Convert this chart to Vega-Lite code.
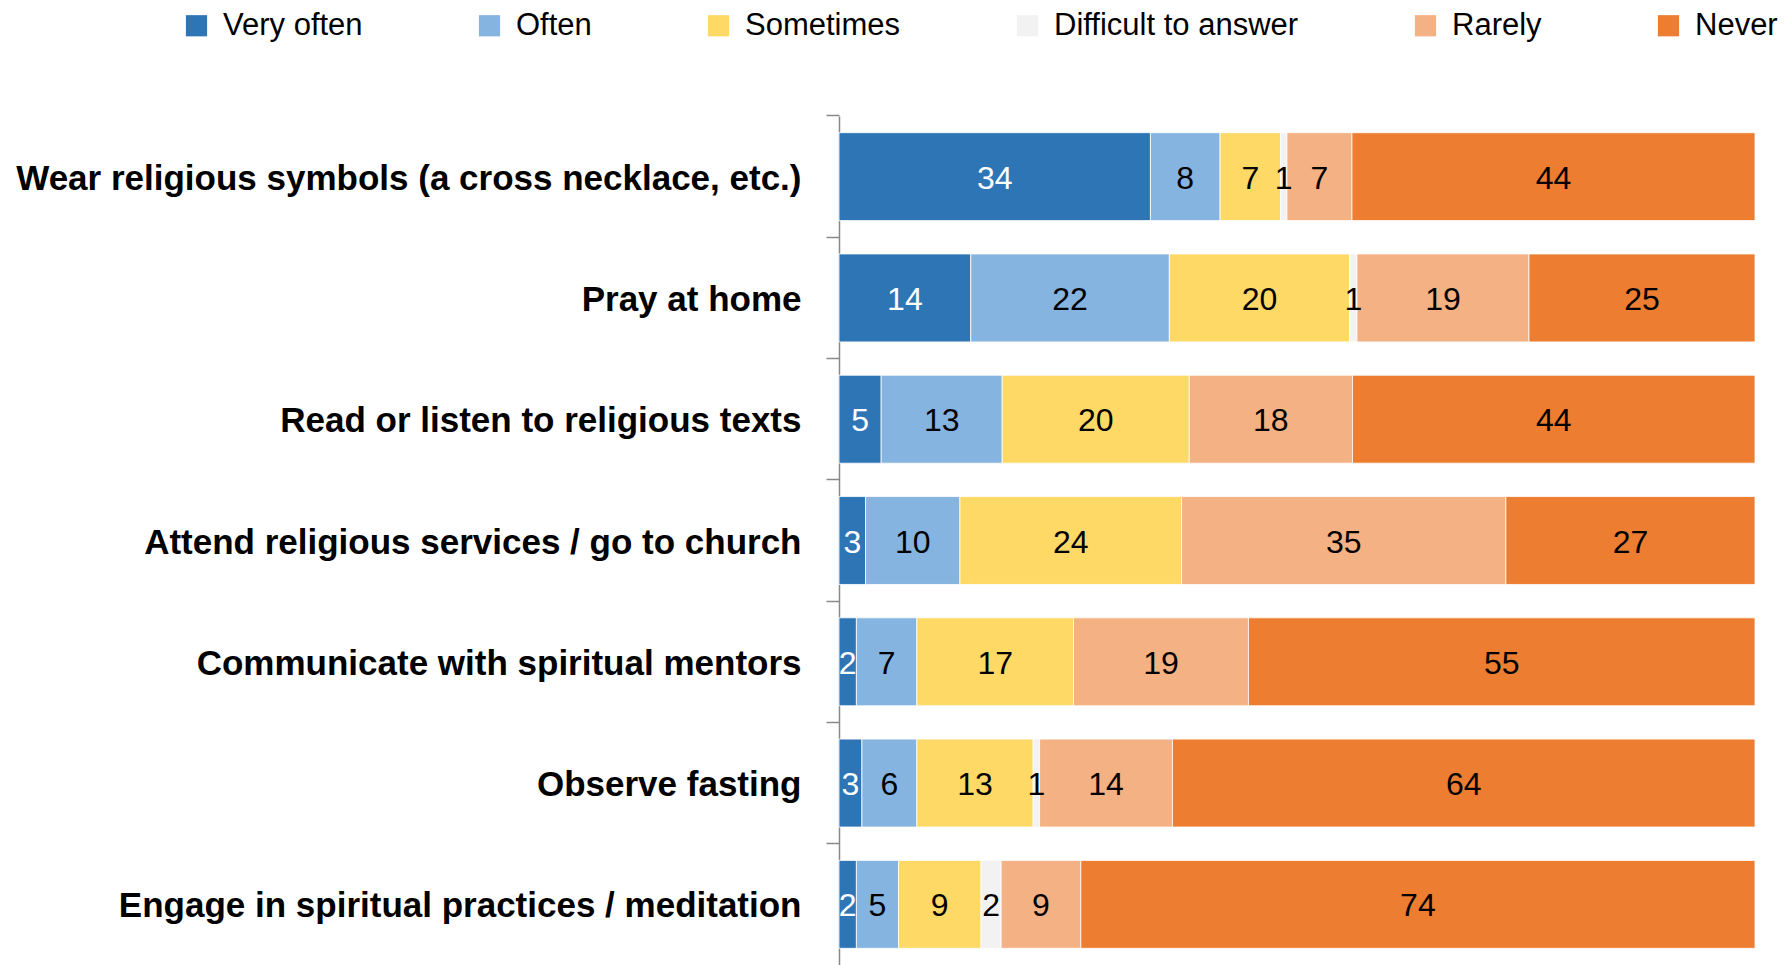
{
  "$schema": "https://vega.github.io/schema/vega-lite/v6.json",
  "autosize": {"type": "none"},
  "padding": {"left": 839, "top": 116, "right": 33, "bottom": 0},
  "width": 916,
  "height": 849,
  "background": "white",
  "config": {"view": {"stroke": null}},
  "data": {"values": [
    {"item": "Wear religious symbols (a cross necklace, etc.)", "cat": "Very often", "k": 1, "v": 34.0, "label": "34"},
    {"item": "Wear religious symbols (a cross necklace, etc.)", "cat": "Often", "k": 2, "v": 7.6, "label": "8"},
    {"item": "Wear religious symbols (a cross necklace, etc.)", "cat": "Sometimes", "k": 3, "v": 6.6, "label": "7"},
    {"item": "Wear religious symbols (a cross necklace, etc.)", "cat": "Difficult to answer", "k": 4, "v": 0.7, "label": "1"},
    {"item": "Wear religious symbols (a cross necklace, etc.)", "cat": "Rarely", "k": 5, "v": 7.1, "label": "7"},
    {"item": "Wear religious symbols (a cross necklace, etc.)", "cat": "Never", "k": 6, "v": 44.0, "label": "44"},
    {"item": "Pray at home", "cat": "Very often", "k": 1, "v": 14.4, "label": "14"},
    {"item": "Pray at home", "cat": "Often", "k": 2, "v": 21.7, "label": "22"},
    {"item": "Pray at home", "cat": "Sometimes", "k": 3, "v": 19.7, "label": "20"},
    {"item": "Pray at home", "cat": "Difficult to answer", "k": 4, "v": 0.8, "label": "1"},
    {"item": "Pray at home", "cat": "Rarely", "k": 5, "v": 18.8, "label": "19"},
    {"item": "Pray at home", "cat": "Never", "k": 6, "v": 24.7, "label": "25"},
    {"item": "Read or listen to religious texts", "cat": "Very often", "k": 1, "v": 4.6, "label": "5"},
    {"item": "Read or listen to religious texts", "cat": "Often", "k": 2, "v": 13.2, "label": "13"},
    {"item": "Read or listen to religious texts", "cat": "Sometimes", "k": 3, "v": 20.4, "label": "20"},
    {"item": "Read or listen to religious texts", "cat": "Rarely", "k": 5, "v": 17.8, "label": "18"},
    {"item": "Read or listen to religious texts", "cat": "Never", "k": 6, "v": 43.9, "label": "44"},
    {"item": "Attend religious services / go to church", "cat": "Very often", "k": 1, "v": 2.9, "label": "3"},
    {"item": "Attend religious services / go to church", "cat": "Often", "k": 2, "v": 10.3, "label": "10"},
    {"item": "Attend religious services / go to church", "cat": "Sometimes", "k": 3, "v": 24.2, "label": "24"},
    {"item": "Attend religious services / go to church", "cat": "Rarely", "k": 5, "v": 35.4, "label": "35"},
    {"item": "Attend religious services / go to church", "cat": "Never", "k": 6, "v": 27.2, "label": "27"},
    {"item": "Communicate with spiritual mentors", "cat": "Very often", "k": 1, "v": 1.9, "label": "2"},
    {"item": "Communicate with spiritual mentors", "cat": "Often", "k": 2, "v": 6.6, "label": "7"},
    {"item": "Communicate with spiritual mentors", "cat": "Sometimes", "k": 3, "v": 17.1, "label": "17"},
    {"item": "Communicate with spiritual mentors", "cat": "Rarely", "k": 5, "v": 19.1, "label": "19"},
    {"item": "Communicate with spiritual mentors", "cat": "Never", "k": 6, "v": 55.3, "label": "55"},
    {"item": "Observe fasting", "cat": "Very often", "k": 1, "v": 2.5, "label": "3"},
    {"item": "Observe fasting", "cat": "Often", "k": 2, "v": 6.0, "label": "6"},
    {"item": "Observe fasting", "cat": "Sometimes", "k": 3, "v": 12.7, "label": "13"},
    {"item": "Observe fasting", "cat": "Difficult to answer", "k": 4, "v": 0.7, "label": "1"},
    {"item": "Observe fasting", "cat": "Rarely", "k": 5, "v": 14.5, "label": "14"},
    {"item": "Observe fasting", "cat": "Never", "k": 6, "v": 63.6, "label": "64"},
    {"item": "Engage in spiritual practices / meditation", "cat": "Very often", "k": 1, "v": 1.9, "label": "2"},
    {"item": "Engage in spiritual practices / meditation", "cat": "Often", "k": 2, "v": 4.6, "label": "5"},
    {"item": "Engage in spiritual practices / meditation", "cat": "Sometimes", "k": 3, "v": 9.0, "label": "9"},
    {"item": "Engage in spiritual practices / meditation", "cat": "Difficult to answer", "k": 4, "v": 2.2, "label": "2"},
    {"item": "Engage in spiritual practices / meditation", "cat": "Rarely", "k": 5, "v": 8.7, "label": "9"},
    {"item": "Engage in spiritual practices / meditation", "cat": "Never", "k": 6, "v": 73.6, "label": "74"}
  ]},
  "transform": [
    {"stack": "v", "groupby": ["item"], "sort": [{"field": "k", "order": "ascending"}], "offset": "normalize", "as": ["x0", "x1"]}
  ],
  "encoding": {
    "y": {
      "field": "item", "type": "nominal", "sort": null, "title": null,
      "scale": {"paddingInner": 0.275, "paddingOuter": 0.1375},
      "axis": {
        "bandPosition": -0.19,
        "labelFont": "Liberation Sans",
        "labelFontWeight": "bold",
        "labelFontSize": 35,
        "labelColor": "black",
        "labelPadding": 25,
        "labelLimit": 900,
        "labelOffset": 2,
        "domainColor": "#888888",
        "domainWidth": 1.5,
        "tickColor": "#888888",
        "tickWidth": 1.5,
        "tickSize": 13
      }
    }
  },
  "layer": [
    {
      "mark": {"type": "bar", "stroke": "white", "strokeWidth": 0.8},
      "encoding": {
        "x": {"field": "x0", "type": "quantitative", "scale": {"domain": [0, 1]}, "axis": null},
        "x2": {"field": "x1"},
        "color": {
          "field": "cat", "type": "nominal", "title": null,
          "scale": {
            "domain": ["Very often", "Often", "Sometimes", "Difficult to answer", "Rarely", "Never"],
            "range": ["#2E75B6", "#85B4E0", "#FED966", "#F2F2F2", "#F4B183", "#ED7D31"]
          },
          "legend": {
            "orient": "none",
            "direction": "horizontal",
            "legendX": -658,
            "legendY": -106,
            "symbolType": "square",
            "symbolSize": 450,
            "symbolStrokeWidth": 0,
            "labelFont": "Liberation Sans",
            "labelFontSize": 31,
            "labelColor": "black",
            "labelOffset": 11,
            "labelLimit": 400,
            "columnPadding": 111,
            "padding": 0
          }
        }
      }
    },
    {
      "transform": [
        {"fold": ["x0", "x1"], "as": ["edge", "pos"]},
        {"aggregate": [{"op": "mean", "field": "pos", "as": "xm"}], "groupby": ["item", "cat", "label"]}
      ],
      "mark": {"type": "text", "font": "Liberation Sans", "fontSize": 32, "align": "center", "baseline": "middle", "dy": 2},
      "encoding": {
        "x": {"field": "xm", "type": "quantitative"},
        "text": {"field": "label"},
        "color": {
          "condition": {"test": "datum.cat === 'Very often'", "value": "white"},
          "value": "black"
        }
      }
    }
  ]
}
